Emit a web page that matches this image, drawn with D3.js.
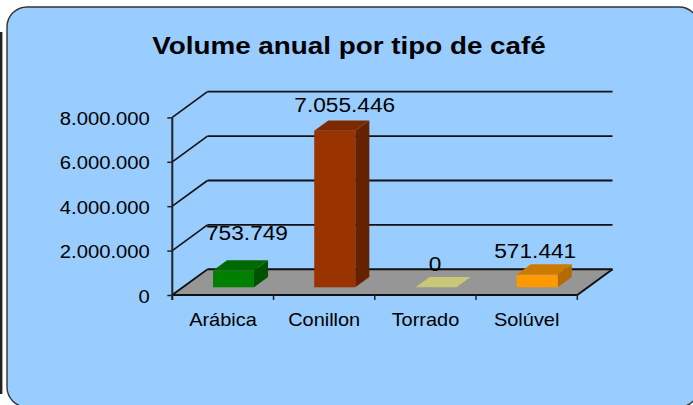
<!DOCTYPE html>
<html>
<head>
<meta charset="utf-8">
<script src="https://cdn.jsdelivr.net/npm/d3@7"></script>
<style>
  html, body { margin: 0; padding: 0; background: #ffffff; }
  svg { display: block; }
  text { font-family: "Liberation Sans", Arial, Helvetica, sans-serif; fill: #000; }
</style>
</head>
<body>
<svg id="chart" width="693" height="405"></svg>
<script>
// ---- data ----
const categories = ["Arábica", "Conillon", "Torrado", "Solúvel"];
const volumes = [753749, 7055446, 0, 571441];
const yTicks = [0, 2000000, 4000000, 6000000, 8000000];
const title = "Volume anual por tipo de café";

// ---- styles ----
const frontColors = ["#008000", "#993300", "#C8C878", "#FF9900"];
const topColors   = ["#006A00", "#7E2A00", "#C8C878", "#CC7A00"];
const sideColors  = ["#005200", "#652200", "#A8A860", "#B36B00"];
const labelNudge = { "Arábica": [13.5, -14], "Conillon": [10, -2], "Torrado": [-1, 1], "Solúvel": [-2, 0] };

const W = 693, H = 405;
const X0 = 172.3, X1 = 577.3;
const DX = 35.2, DY = -25.7;      // depth of the 3D box
const F1 = 0.30, F2 = 0.70;       // bar front/back depth fractions

const svg = d3.select("#chart");
const fmt = d3.formatLocale({ decimal: ",", thousands: ".", grouping: [3], currency: ["", ""] }).format(",d");

// background
svg.append("rect").attr("x", 7).attr("y", 7).attr("width", 692).attr("height", 400)
  .attr("rx", 20).attr("ry", 20).attr("fill", "#99CCFF").attr("stroke", "#333").attr("stroke-width", 1.4);
svg.append("rect").attr("x", 0).attr("y", 32).attr("width", 2.4).attr("height", 362).attr("fill", "#222");

// title
svg.append("text").attr("text-anchor", "middle").attr("font-weight", "bold").attr("font-size", 23)
  .attr("transform", "translate(349,54) scale(1.21,1)").text(title);

// scales
const y = d3.scaleLinear().domain([0, 8000000]).range([295, 117.4]);
const slot = d3.scaleBand().domain(categories).range([X0, X1]);
const band = d3.scaleBand().domain(categories).range([X0, X1]).paddingInner(0.595).paddingOuter(0.2975);

const g = svg.append("g");

// back wall gridlines and side wall diagonals
yTicks.forEach(v => {
  g.append("line").attr("x1", X0 + DX).attr("x2", X1 + DX).attr("y1", y(v) + DY).attr("y2", y(v) + DY)
    .attr("stroke", "#111").attr("stroke-width", 1.8);
  g.append("line").attr("x1", X0).attr("x2", X0 + DX).attr("y1", y(v)).attr("y2", y(v) + DY)
    .attr("stroke", "#111").attr("stroke-width", 1.6);
});

// floor
const y0 = y(0);
g.append("polygon")
  .attr("points", [[X0, y0], [X1, y0], [X1 + DX, y0 + DY], [X0 + DX, y0 + DY]].map(p => p.join(",")).join(" "))
  .attr("fill", "#969696").attr("stroke", "none");
g.append("line").attr("x1", X0 + DX).attr("x2", X1 + DX).attr("y1", y0 + DY).attr("y2", y0 + DY).attr("stroke", "#111").attr("stroke-width", 1.8);
g.append("line").attr("x1", X0).attr("x2", X0 + DX).attr("y1", y0).attr("y2", y0 + DY).attr("stroke", "#111").attr("stroke-width", 1.6);
g.append("line").attr("x1", X1).attr("x2", X1 + DX).attr("y1", y0).attr("y2", y0 + DY).attr("stroke", "#111").attr("stroke-width", 2);
g.append("line").attr("x1", X0).attr("x2", X1).attr("y1", y0).attr("y2", y0).attr("stroke", "#111").attr("stroke-width", 2.2);

// bars
const bw = band.bandwidth();
const bdx = (F2 - F1) * DX, bdy = (F2 - F1) * DY;
const pts = a => a.map(p => p.join(",")).join(" ");
categories.forEach((c, i) => {
  const v = volumes[i];
  const x = band(c) + F1 * DX;
  const yb = y(0) + F1 * DY;
  const yt = y(v) + F1 * DY;
  const bar = g.append("g");
  if (yb - yt > 0.5) {
    bar.append("polygon").attr("points", pts([[x + bw, yt], [x + bw + bdx, yt + bdy], [x + bw + bdx, yb + bdy], [x + bw, yb]]))
      .attr("fill", sideColors[i]);
    bar.append("rect").attr("x", x).attr("y", yt).attr("width", bw).attr("height", yb - yt).attr("fill", frontColors[i]);
  }
  bar.append("polygon").attr("points", pts([[x, yt], [x + bw, yt], [x + bw + bdx, yt + bdy], [x + bdx, yt + bdy]]))
    .attr("fill", topColors[i]);

  const n = labelNudge[c];
  g.append("text").attr("text-anchor", "middle").attr("font-size", 21)
    .attr("transform", `translate(${x + bw / 2 + n[0]},${yt - 17 + n[1]}) scale(1.08,1)`)
    .text(fmt(v));
});

// y axis
const yAxis = svg.append("g").attr("transform", `translate(${X0},0)`)
  .call(d3.axisLeft(y).tickValues(yTicks).tickFormat(fmt).tickSize(5).tickPadding(17));
yAxis.select(".domain").attr("stroke", "#222").attr("stroke-width", 2).attr("d", `M-0,${y(8000000)}V${y(0) + 5}`);
yAxis.selectAll(".tick line").attr("stroke", "#222").attr("stroke-width", 1.5);
yAxis.selectAll(".tick text")
  .attr("font-family", "Liberation Sans, Arial, sans-serif").attr("font-size", 19).attr("fill", "#000")
  .attr("x", null).attr("dy", "0.35em")
  .attr("transform", "translate(-22.5,0.5) scale(1.065,1)");

// x axis ticks and labels
const xEdges = categories.map(c => slot(c)).concat([X1]);
svg.selectAll(".xtick").data(xEdges).enter().append("line")
  .attr("x1", d => d).attr("x2", d => d).attr("y1", y0).attr("y2", y0 + 5)
  .attr("stroke", "#222").attr("stroke-width", 1.5);
svg.selectAll(".xlab").data(categories).enter().append("text")
  .attr("text-anchor", "middle").attr("font-size", 19)
  .attr("transform", d => `translate(${slot(d) + slot.bandwidth() / 2},326) scale(1.05,1)`)
  .text(d => d);
</script>
</body>
</html>
